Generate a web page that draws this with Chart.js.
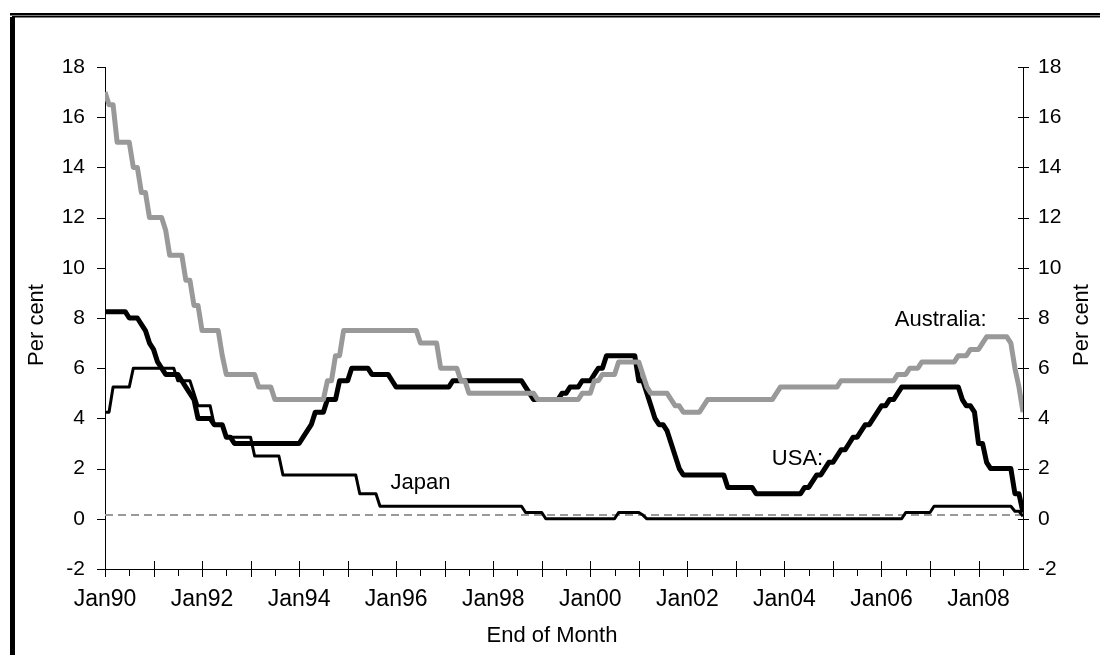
<!DOCTYPE html>
<html>
<head>
<meta charset="utf-8">
<script src="https://cdn.jsdelivr.net/npm/chart.js@4.4.0/dist/chart.umd.min.js"></script>
<style>
  html, body { margin: 0; padding: 0; background: #fff; }
  #wrap { width: 1100px; height: 655px; }
</style>
</head>
<body>
<div id="wrap"><canvas id="rates" width="1100" height="655"></canvas></div>
<script>
// end of month policy rates, Jan 1990 - Dec 2008 (one row per year)
const usa = [
  8.25, 8.25, 8.25, 8.25, 8.25, 8.25, 8.0, 8.0, 8.0, 7.75, 7.5, 7.0,
  6.75, 6.25, 6.0, 5.75, 5.75, 5.75, 5.75, 5.5, 5.25, 5.0, 4.75, 4.0,
  4.0, 4.0, 4.0, 3.75, 3.75, 3.75, 3.25, 3.25, 3.0, 3.0, 3.0, 3.0,
  3.0, 3.0, 3.0, 3.0, 3.0, 3.0, 3.0, 3.0, 3.0, 3.0, 3.0, 3.0,
  3.0, 3.25, 3.5, 3.75, 4.25, 4.25, 4.25, 4.75, 4.75, 4.75, 5.5, 5.5,
  5.5, 6.0, 6.0, 6.0, 6.0, 6.0, 5.75, 5.75, 5.75, 5.75, 5.75, 5.5,
  5.25, 5.25, 5.25, 5.25, 5.25, 5.25, 5.25, 5.25, 5.25, 5.25, 5.25, 5.25,
  5.25, 5.25, 5.5, 5.5, 5.5, 5.5, 5.5, 5.5, 5.5, 5.5, 5.5, 5.5,
  5.5, 5.5, 5.5, 5.5, 5.5, 5.5, 5.5, 5.5, 5.25, 5.0, 4.75, 4.75,
  4.75, 4.75, 4.75, 4.75, 4.75, 5.0, 5.0, 5.25, 5.25, 5.25, 5.5, 5.5,
  5.5, 5.75, 6.0, 6.0, 6.5, 6.5, 6.5, 6.5, 6.5, 6.5, 6.5, 6.5,
  5.5, 5.5, 5.0, 4.5, 4.0, 3.75, 3.75, 3.5, 3.0, 2.5, 2.0, 1.75,
  1.75, 1.75, 1.75, 1.75, 1.75, 1.75, 1.75, 1.75, 1.75, 1.75, 1.25, 1.25,
  1.25, 1.25, 1.25, 1.25, 1.25, 1.0, 1.0, 1.0, 1.0, 1.0, 1.0, 1.0,
  1.0, 1.0, 1.0, 1.0, 1.0, 1.25, 1.25, 1.5, 1.75, 1.75, 2.0, 2.25,
  2.25, 2.5, 2.75, 2.75, 3.0, 3.25, 3.25, 3.5, 3.75, 3.75, 4.0, 4.25,
  4.5, 4.5, 4.75, 4.75, 5.0, 5.25, 5.25, 5.25, 5.25, 5.25, 5.25, 5.25,
  5.25, 5.25, 5.25, 5.25, 5.25, 5.25, 5.25, 5.25, 4.75, 4.5, 4.5, 4.25,
  3.0, 3.0, 2.25, 2.0, 2.0, 2.0, 2.0, 2.0, 2.0, 1.0, 1.0, 0.25
];

const japan = [
  4.25, 4.25, 5.25, 5.25, 5.25, 5.25, 5.25, 6.0, 6.0, 6.0, 6.0, 6.0,
  6.0, 6.0, 6.0, 6.0, 6.0, 6.0, 5.5, 5.5, 5.5, 5.5, 5.0, 4.5,
  4.5, 4.5, 4.5, 3.75, 3.75, 3.75, 3.25, 3.25, 3.25, 3.25, 3.25, 3.25,
  3.25, 2.5, 2.5, 2.5, 2.5, 2.5, 2.5, 2.5, 1.75, 1.75, 1.75, 1.75,
  1.75, 1.75, 1.75, 1.75, 1.75, 1.75, 1.75, 1.75, 1.75, 1.75, 1.75, 1.75,
  1.75, 1.75, 1.75, 1.0, 1.0, 1.0, 1.0, 1.0, 0.5, 0.5, 0.5, 0.5,
  0.5, 0.5, 0.5, 0.5, 0.5, 0.5, 0.5, 0.5, 0.5, 0.5, 0.5, 0.5,
  0.5, 0.5, 0.5, 0.5, 0.5, 0.5, 0.5, 0.5, 0.5, 0.5, 0.5, 0.5,
  0.5, 0.5, 0.5, 0.5, 0.5, 0.5, 0.5, 0.5, 0.25, 0.25, 0.25, 0.25,
  0.25, 0.0, 0.0, 0.0, 0.0, 0.0, 0.0, 0.0, 0.0, 0.0, 0.0, 0.0,
  0.0, 0.0, 0.0, 0.0, 0.0, 0.0, 0.0, 0.25, 0.25, 0.25, 0.25, 0.25,
  0.25, 0.15, 0.0, 0.0, 0.0, 0.0, 0.0, 0.0, 0.0, 0.0, 0.0, 0.0,
  0.0, 0.0, 0.0, 0.0, 0.0, 0.0, 0.0, 0.0, 0.0, 0.0, 0.0, 0.0,
  0.0, 0.0, 0.0, 0.0, 0.0, 0.0, 0.0, 0.0, 0.0, 0.0, 0.0, 0.0,
  0.0, 0.0, 0.0, 0.0, 0.0, 0.0, 0.0, 0.0, 0.0, 0.0, 0.0, 0.0,
  0.0, 0.0, 0.0, 0.0, 0.0, 0.0, 0.0, 0.0, 0.0, 0.0, 0.0, 0.0,
  0.0, 0.0, 0.0, 0.0, 0.0, 0.0, 0.25, 0.25, 0.25, 0.25, 0.25, 0.25,
  0.25, 0.5, 0.5, 0.5, 0.5, 0.5, 0.5, 0.5, 0.5, 0.5, 0.5, 0.5,
  0.5, 0.5, 0.5, 0.5, 0.5, 0.5, 0.5, 0.5, 0.5, 0.3, 0.3, 0.1
];

const australia = [
  17.0, 16.5, 16.5, 15.0, 15.0, 15.0, 15.0, 14.0, 14.0, 13.0, 13.0, 12.0,
  12.0, 12.0, 12.0, 11.5, 10.5, 10.5, 10.5, 10.5, 9.5, 9.5, 8.5, 8.5,
  7.5, 7.5, 7.5, 7.5, 7.5, 6.5, 5.75, 5.75, 5.75, 5.75, 5.75, 5.75,
  5.75, 5.75, 5.25, 5.25, 5.25, 5.25, 4.75, 4.75, 4.75, 4.75, 4.75, 4.75,
  4.75, 4.75, 4.75, 4.75, 4.75, 4.75, 4.75, 5.5, 5.5, 6.5, 6.5, 7.5,
  7.5, 7.5, 7.5, 7.5, 7.5, 7.5, 7.5, 7.5, 7.5, 7.5, 7.5, 7.5,
  7.5, 7.5, 7.5, 7.5, 7.5, 7.5, 7.0, 7.0, 7.0, 7.0, 7.0, 6.0,
  6.0, 6.0, 6.0, 6.0, 5.5, 5.5, 5.0, 5.0, 5.0, 5.0, 5.0, 5.0,
  5.0, 5.0, 5.0, 5.0, 5.0, 5.0, 5.0, 5.0, 5.0, 5.0, 5.0, 4.75,
  4.75, 4.75, 4.75, 4.75, 4.75, 4.75, 4.75, 4.75, 4.75, 4.75, 5.0, 5.0,
  5.0, 5.5, 5.5, 5.75, 5.75, 5.75, 5.75, 6.25, 6.25, 6.25, 6.25, 6.25,
  6.25, 5.75, 5.25, 5.0, 5.0, 5.0, 5.0, 5.0, 4.75, 4.5, 4.5, 4.25,
  4.25, 4.25, 4.25, 4.25, 4.5, 4.75, 4.75, 4.75, 4.75, 4.75, 4.75, 4.75,
  4.75, 4.75, 4.75, 4.75, 4.75, 4.75, 4.75, 4.75, 4.75, 4.75, 5.0, 5.25,
  5.25, 5.25, 5.25, 5.25, 5.25, 5.25, 5.25, 5.25, 5.25, 5.25, 5.25, 5.25,
  5.25, 5.25, 5.5, 5.5, 5.5, 5.5, 5.5, 5.5, 5.5, 5.5, 5.5, 5.5,
  5.5, 5.5, 5.5, 5.5, 5.75, 5.75, 5.75, 6.0, 6.0, 6.0, 6.25, 6.25,
  6.25, 6.25, 6.25, 6.25, 6.25, 6.25, 6.25, 6.5, 6.5, 6.5, 6.75, 6.75,
  6.75, 7.0, 7.25, 7.25, 7.25, 7.25, 7.25, 7.25, 7.0, 6.0, 5.25, 4.25
];

const tickLabels = ['Jan90', 'Jan92', 'Jan94', 'Jan96', 'Jan98', 'Jan00', 'Jan02', 'Jan04', 'Jan06', 'Jan08'];
const refLine = 0.15;

// series labels placed in data units (month index, percent)
const notes = [
  { text: 'Japan', x: 70.6, y: 1.2 },
  { text: 'USA:', x: 164.9, y: 2.15 },
  { text: 'Australia:', x: 195.3, y: 7.7 }
];

const FONT = "'Liberation Sans', Arial, sans-serif";
const toPoints = arr => arr.map((v, i) => ({ x: i, y: v }));

const axisMarks = {
  id: 'axisMarks',
  beforeDraw(chart) {
    const c = chart.ctx;
    c.save();
    c.fillStyle = '#fff';
    c.fillRect(0, 0, chart.width, chart.height);
    c.fillStyle = '#000';
    c.fillRect(10, 13, 1090, 2.5);
    c.fillRect(12, 16, 1088, 1.5);
    c.fillRect(10, 17, 5, 638);
    c.restore();
  },
  afterDraw(chart) {
    const c = chart.ctx;
    const { x, y } = chart.scales;
    const a = chart.chartArea;
    c.save();
    c.strokeStyle = '#000';
    c.lineWidth = 1;
    c.beginPath();
    for (let m = 0; m < usa.length; m += 6) {
      const px = Math.round(x.getPixelForValue(m)) + 0.5;
      if (m % 12 === 0) {
        c.moveTo(px, a.bottom - 8);
        c.lineTo(px, a.bottom + 8);
      } else {
        c.moveTo(px, a.bottom);
        c.lineTo(px, a.bottom + 7);
      }
    }
    y.ticks.forEach(t => {
      const py = Math.round(y.getPixelForValue(t.value)) + 0.5;
      c.moveTo(a.left - 8, py);
      c.lineTo(a.left, py);
      c.moveTo(a.right - 5, py);
      c.lineTo(a.right + 6, py);
    });
    c.stroke();

    c.fillStyle = '#000';
    c.font = '22px ' + FONT;
    c.textAlign = 'center';
    c.textBaseline = 'middle';
    c.fillText('End of Month', 552, 636);
    [37, 1082].forEach(tx => {
      c.save();
      c.translate(tx, 325);
      c.rotate(-Math.PI / 2);
      c.fillText('Per cent', 0, 0);
      c.restore();
    });

    c.textAlign = 'left';
    c.textBaseline = 'alphabetic';
    notes.forEach(n => {
      c.fillText(n.text, x.getPixelForValue(n.x), y.getPixelForValue(n.y));
    });
    c.restore();
  }
};

const tickFont = { family: FONT, size: 21 };

new Chart(document.getElementById('rates'), {
  type: 'line',
  data: {
    datasets: [
      { label: 'Australia', data: toPoints(australia), borderColor: '#999999', borderWidth: 5 },
      { label: 'USA', data: toPoints(usa), borderColor: '#000000', borderWidth: 5 },
      { label: 'Japan', data: toPoints(japan), borderColor: '#000000', borderWidth: 3 },
      {
        label: 'ref',
        data: [{ x: 0, y: refLine }, { x: usa.length - 1, y: refLine }],
        borderColor: '#999999', borderWidth: 2, borderDash: [8, 5]
      }
    ]
  },
  options: {
    responsive: false,
    animation: false,
    devicePixelRatio: 1,
    layout: { padding: { top: 67, left: 0, right: 0, bottom: 0 } },
    elements: {
      point: { radius: 0 },
      line: { tension: 0, fill: false, borderJoinStyle: 'round' }
    },
    plugins: { legend: { display: false }, tooltip: { enabled: false } },
    scales: {
      x: {
        type: 'linear',
        min: 0,
        max: usa.length - 1,
        afterFit: s => { s.height = 86; },
        grid: { display: false, drawTicks: false },
        border: { color: '#000', width: 1 },
        ticks: {
          stepSize: 24, includeBounds: false, autoSkip: false, maxRotation: 0,
          padding: 17, color: '#000', font: { family: FONT, size: 23 },
          callback: v => tickLabels[v / 24]
        }
      },
      y: {
        position: 'left',
        min: -2, max: 18,
        afterFit: s => { s.width = 105; },
        grid: { display: false, drawTicks: false },
        border: { color: '#000', width: 1 },
        ticks: { stepSize: 2, padding: 20, color: '#000', font: tickFont }
      },
      y2: {
        position: 'right',
        min: -2, max: 18,
        afterFit: s => { s.width = 77; },
        grid: { display: false, drawTicks: false },
        border: { color: '#000', width: 1 },
        ticks: { stepSize: 2, padding: 15, color: '#000', font: tickFont }
      }
    }
  },
  plugins: [axisMarks]
});
</script>
</body>
</html>
